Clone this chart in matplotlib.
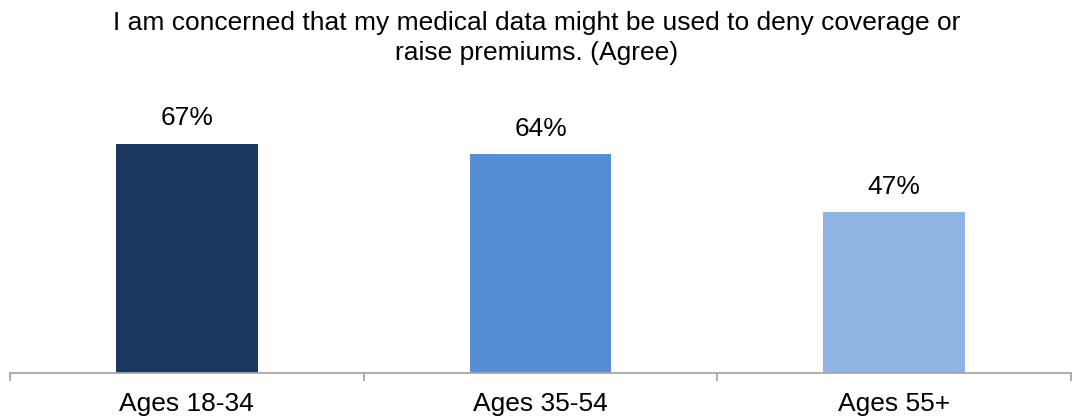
import matplotlib
matplotlib.use("Agg")
import matplotlib.pyplot as plt
import numpy as np

categories = ["Ages 18-34", "Ages 35-54", "Ages 55+"]
values = [67, 64, 47]
value_labels = ["67%", "64%", "47%"]
colors = ["#1A375F", "#558ED5", "#8EB4E3"]
title_lines = [
    "I am concerned that my medical data might be used to deny coverage or",
    "raise premiums. (Agree)",
]

plt.rcParams["font.family"] = ["Liberation Sans", "DejaVu Sans"]

W, H = 1074, 419
fig = plt.figure(figsize=(W / 100, H / 100), dpi=100)
left, right = 10 / W, 1071 / W
bottom, top = (H - 373) / H, (H - 99) / H
ax = fig.add_axes([left, bottom, right - left, top - bottom])

x = np.arange(len(categories))
ax.bar(x, values, width=0.40, color=colors, zorder=2)
for xi, v, lab in zip(x, values, value_labels):
    ax.annotate(lab, (xi, v), xytext=(0, 13), textcoords="offset points",
                ha="center", va="baseline", fontsize=19, color="#000000")

ax.set_xlim(-0.5, len(categories) - 0.5)
ax.set_ylim(0, 80)

for s in ["top", "right", "left"]:
    ax.spines[s].set_visible(False)
ax.spines["bottom"].set_color("#A6A6A6")
ax.spines["bottom"].set_linewidth(1.3)

ax.set_yticks([])
ax.set_xticks(x)
ax.set_xticklabels(categories, fontsize=19)
ax.tick_params(axis="x", which="major", length=0, pad=14)
ax.set_xticks(np.arange(-0.5, len(categories)), minor=True)
ax.tick_params(axis="x", which="minor", length=6, width=1.3, color="#A6A6A6", direction="out")

for i, line in enumerate(title_lines):
    fig.text(0.5, 1 - (30 + 30 * i) / H, line, ha="center", va="baseline", fontsize=19)

fig.savefig("out.png", dpi=100)
